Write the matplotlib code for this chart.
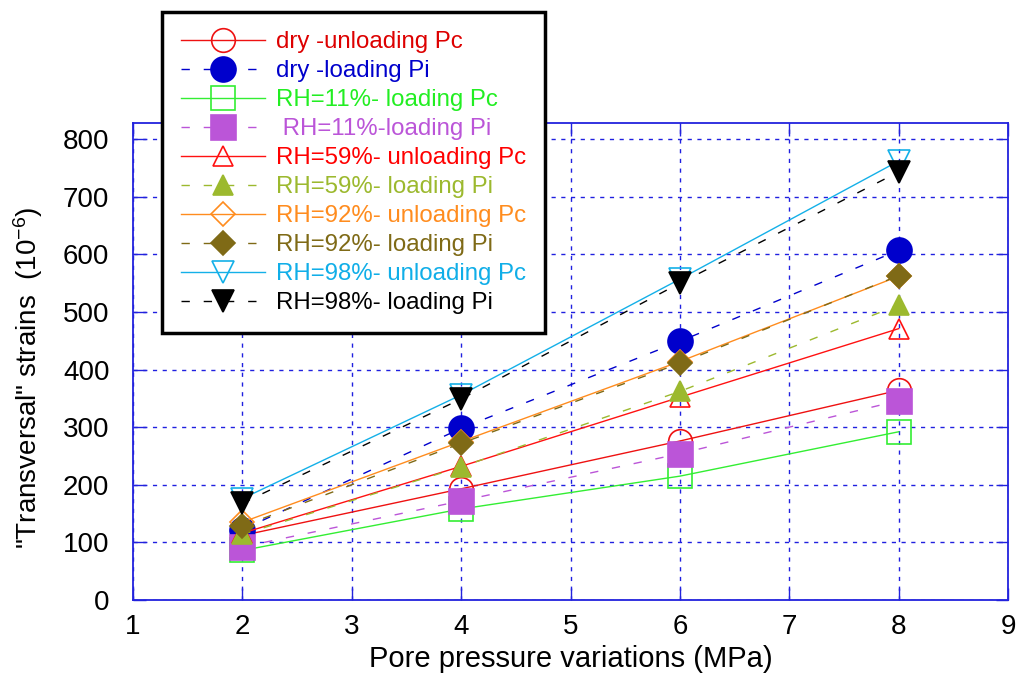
import matplotlib
matplotlib.use('Agg')
import matplotlib.pyplot as plt

plt.rcParams['font.family'] = ['Liberation Sans', 'DejaVu Sans']
plt.rcParams['mathtext.fontset'] = 'custom'
plt.rcParams['mathtext.rm'] = 'Liberation Sans'
plt.rcParams['mathtext.it'] = 'Liberation Sans:italic'

# pore pressure steps (MPa)
pressure = [2, 4, 6, 8]

# transversal strains (1e-6)
dry_unl_pc = [112, 193, 276, 364]
dry_load_pi = [122, 298, 449, 607]
rh11_load_pc = [86, 158, 215, 292]
rh11_load_pi = [92, 172, 254, 346]
rh59_unl_pc = [116, 232, 352, 471]
rh59_load_pi = [114, 231, 362, 512]
rh92_unl_pc = [135, 275, 414, 562]
rh92_load_pi = [128, 272, 411, 563]
rh98_unl_pc = [176, 356, 557, 762]
rh98_load_pi = [168, 349, 550, 743]

labels = ['dry -unloading Pc', 'dry -loading Pi', 'RH=11%- loading Pc',
          ' RH=11%-loading Pi', 'RH=59%- unloading Pc', 'RH=59%- loading Pi',
          'RH=92%- unloading Pc', 'RH=92%- loading Pi', 'RH=98%- unloading Pc',
          'RH=98%- loading Pi']
series = [dry_unl_pc, dry_load_pi, rh11_load_pc, rh11_load_pi, rh59_unl_pc,
          rh59_load_pi, rh92_unl_pc, rh92_load_pi, rh98_unl_pc, rh98_load_pi]
colors = ['#ee1111', '#0000cc', '#33ee33', '#bb55d8', '#ff1111',
          '#9cb92e', '#ff8c1e', '#7f6a16', '#14b0e8', '#000000']
text_colors = ['#dd0000', '#0000cc', '#22ee22', '#bb55d8', '#ff0000',
               '#9cb92e', '#ff8c1e', '#7f6a16', '#10aee8', '#000000']
markers = ['o', 'o', 's', 's', '^', '^', 'D', 'D', 'v', 'v']
sizes = [17, 18, 17.5, 18, 15, 15, 12.5, 12.5, 16, 16]
filled = [False, True, False, True, False, True, False, True, False, True]

fig = plt.figure(figsize=(10.25, 6.78), dpi=100)
ax = fig.add_axes([133 / 1025, 1 - 600 / 678, 875 / 1025, 477 / 678])

for i in range(len(series)):
    ls = (0, (6, 10)) if filled[i] else '-'
    ax.plot(pressure, series[i], color=colors[i], linestyle=ls, lw=1,
            marker=markers[i], markersize=sizes[i],
            markerfacecolor=colors[i] if filled[i] else 'none',
            markeredgecolor=colors[i], markeredgewidth=1.2,
            label=labels[i], zorder=3 + i * 0.1)

ax.set_xlim(1, 9)
ax.set_ylim(0, 828)
ax.set_xticks(range(1, 10))
ax.set_yticks(range(0, 801, 100))
ax.grid(True, color='#2020e0', linestyle=(0, (3, 4)), lw=1)
ax.set_axisbelow(True)
for sp in ax.spines.values():
    sp.set_color('#2222dd')
    sp.set_linewidth(1.3)
ax.tick_params(direction='in', length=9, color='#2222dd', width=1,
               top=True, right=True, labelsize=20)
ax.tick_params(axis='y', pad=17)
ax.tick_params(axis='x', pad=10)

ax.set_xlabel('Pore pressure variations (MPa)', fontsize=21, labelpad=4)
ax.set_ylabel('"Transversal" strains  (10$^{-6}$)', fontsize=20)
ax.yaxis.set_label_coords(-0.1, 0.465)

leg = fig.legend(loc='upper left', bbox_to_anchor=(162 / 1025, 1 - 12 / 678),
                 borderaxespad=0, fontsize=17.3, frameon=True, fancybox=False,
                 framealpha=1, edgecolor='black', handlelength=3.5,
                 handletextpad=0.45, labelspacing=0.29, borderpad=0.8)
leg.get_frame().set_linewidth(2.5)
for t, c in zip(leg.get_texts(), text_colors):
    t.set_color(c)

fig.savefig('out.png', dpi=100)
